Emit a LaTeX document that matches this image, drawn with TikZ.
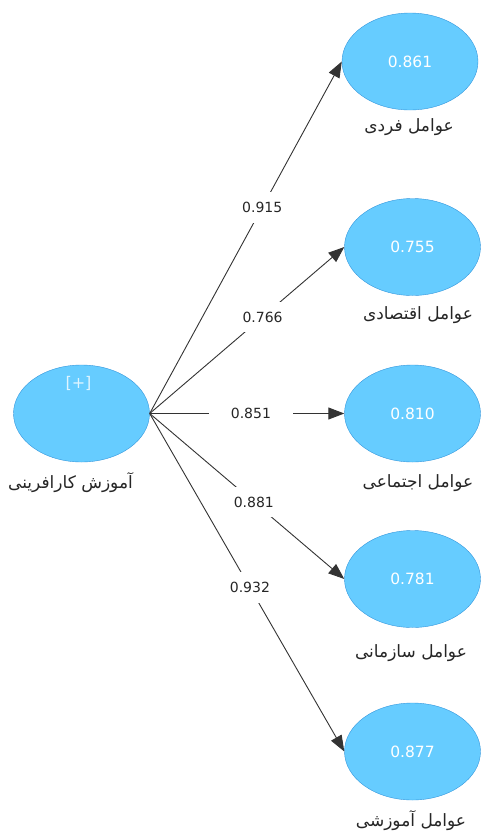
\documentclass[tikz,border=0pt]{standalone}
\usepackage{fontspec}
\setmainfont{DejaVu Sans}
\newfontfamily\arabicfont[Script=Arabic]{DejaVu Sans}
\TeXXeTstate=1
\usetikzlibrary{arrows.meta}
\usetikzlibrary{shapes.geometric}

\definecolor{latfill}{RGB}{102,204,255}
\definecolor{latdraw}{RGB}{51,150,220}

\tikzset{
  latent/.style={ellipse, draw=latdraw, fill=latfill, minimum width=136pt, minimum height=97pt, inner sep=0pt, text=white, font=\fontsize{15.5}{18}\selectfont},
  varname/.style={text=black!85, font=\arabicfont\fontsize{17}{19}\selectfont},
  coef/.style={fill=white, inner xsep=22pt, inner ysep=10pt, text=black!85, font=\fontsize{14}{16}\selectfont},
}

\begin{document}
\begin{tikzpicture}[x=1pt, y=-1pt]
\useasboundingbox (0,0) rectangle (480,833);

\node[latent] (ak) at (81.5,413.5) {};
\node[text=white!80!latfill, font=\fontsize{16}{18}\selectfont] (plus) at (78.5,383.5) {[+]};
\node[varname] (akl) at (70.5,483) {\beginR آموزش کارافرینی\endR};

% indicator constructs on the right
\foreach \i/\cx/\cy/\tx/\ty/\v/\lab in {1/410/61.5/409/127/0.861/{عوامل فردی},
  2/412.5/247/418/315/0.755/{عوامل اقتصادی},
  3/412.5/413.5/418/483/0.810/{عوامل اجتماعی},
  4/412.5/579/411/653/0.781/{عوامل سازمانی},
  5/412.5/751.5/411/821/0.877/{عوامل آموزشی}}
{
  \node[latent] (f\i) at (\cx,\cy) {\v};
  \node[varname] (l\i) at (\tx,\ty) {\beginR\lab\endR};
}

\foreach \i/\p/\w in {1/0.586/0.915, 2/0.58/0.766, 3/0.52/0.851, 4/0.535/0.881, 5/0.515/0.932}
  \draw[-{Triangle[length=16pt,width=12pt]}, black!80, line width=0.9pt] (ak.east) -- (f\i.west) node[coef, pos=\p] {\w};
\end{tikzpicture}
\end{document}
